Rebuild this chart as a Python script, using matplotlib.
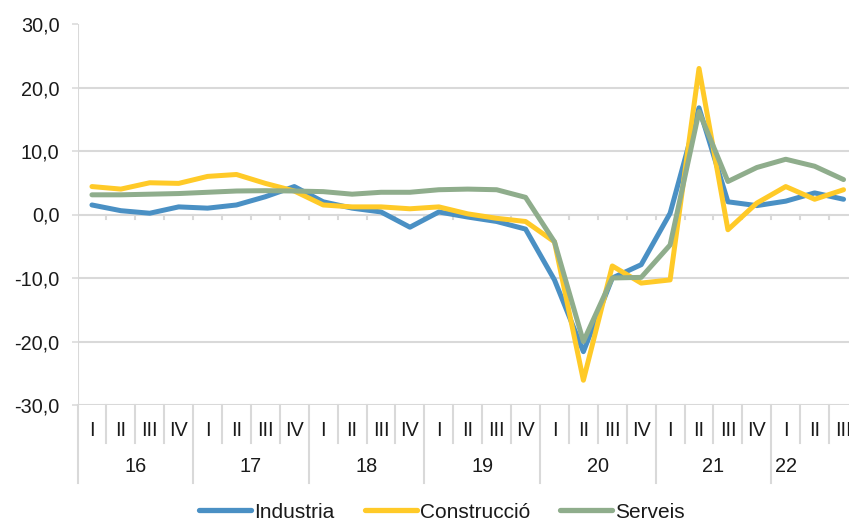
import matplotlib
matplotlib.use("Agg")
import matplotlib.pyplot as plt
import matplotlib.transforms as mtransforms
import numpy as np

plt.rcParams['font.family'] = ['Liberation Sans', 'DejaVu Sans']

years = ['16', '17', '18', '19', '20', '21', '22']
quarters = ['I', 'II', 'III', 'IV'] * 6 + ['I', 'II', 'III']
quarters_per_year = [4, 4, 4, 4, 4, 4, 3]

industria = [1.5, 0.6, 0.2, 1.2, 1.0, 1.5, 2.8, 4.4, 2.0, 1.0, 0.4, -2.0, 0.4, -0.4, -1.1, -2.3,
             -10.3, -21.6, -10.0, -7.9, 0.2, 16.8, 2.0, 1.4, 2.1, 3.4, 2.4]
construccio = [4.4, 4.0, 5.0, 4.9, 6.0, 6.3, 4.9, 3.7, 1.5, 1.2, 1.2, 0.9, 1.2, 0.1, -0.6, -1.1,
               -4.3, -26.1, -8.1, -10.8, -10.3, 23.0, -2.4, 1.8, 4.4, 2.4, 3.9]
serveis = [3.1, 3.1, 3.2, 3.3, 3.5, 3.7, 3.75, 3.7, 3.6, 3.2, 3.5, 3.5, 3.9, 4.0, 3.9, 2.7,
           -4.3, -20.0, -10.0, -9.9, -4.8, 16.2, 5.2, 7.4, 8.7, 7.6, 5.5]

series = [('Industria', industria, '#4a90c4'),
          ('Construcció', construccio, '#ffca28'),
          ('Serveis', serveis, '#8fad8c')]

W, H = 849, 523
fig = plt.figure(figsize=(W / 100, H / 100), dpi=100)
left_px, right_px, top_px, bot_px = 77.5, 858, 24, 405
ax = fig.add_axes([left_px / W, 1 - bot_px / H, (right_px - left_px) / W, (bot_px - top_px) / H])

n = len(quarters)
x = np.arange(n) + 0.5
grid_c = '#d9d9d9'
text_c = '#1a1a1a'
fs = 14.3

for name, vals, col in series:
    ax.plot(x, vals, color=col, lw=3.6, label=name, solid_joinstyle='round',
            solid_capstyle='round', clip_on=False, zorder=3)

ax.set_xlim(0, n)
ax.set_ylim(-30, 30)
yt = np.arange(-30, 31, 10)
ax.set_yticks(yt)
ax.set_yticklabels([f"{v:.1f}".replace('.', ',') for v in yt], fontsize=fs, color=text_c)
ax.tick_params(axis='y', length=4.5, width=1.1, color=grid_c, pad=8.5)
ax.set_xticks([])
for s in ax.spines.values():
    s.set_visible(False)
ax.axvline(0, color=grid_c, lw=1.5, zorder=1)
for v in yt[:-1]:
    ax.axhline(v, color=grid_c, lw=1.5, zorder=1)

# small tick marks on the zero axis
for b in range(1, n + 1):
    ax.plot([b, b], [0, -0.65], color=grid_c, lw=1.5, zorder=1, clip_on=False)

# category label area
trans = mtransforms.blended_transform_factory(ax.transData, ax.transAxes)
h_ax = bot_px - top_px
short = -(443 - bot_px) / h_ax
long_ = -(483 - bot_px) / h_ax
q_y = -(430.5 - bot_px) / h_ax
y_y = -(467 - bot_px) / h_ax

year_bounds = np.cumsum([0] + quarters_per_year)
for b in range(0, n + 1):
    ylow = long_ if b in year_bounds else short
    ax.plot([b, b], [0, ylow], color=grid_c, lw=1.5, transform=trans, clip_on=False)
for i, q in enumerate(quarters):
    ax.text(i + 0.5, q_y, q, transform=trans, ha='center', va='center', fontsize=fs, color=text_c)
for k, yr in enumerate(years):
    if k < len(years) - 1:
        cx = (year_bounds[k] + year_bounds[k + 1]) / 2
    else:
        cx = year_bounds[k] + 0.5
    ax.text(cx, y_y, yr, transform=trans, ha='center', va='center', fontsize=fs, color=text_c)

leg = fig.legend(loc='center', bbox_to_anchor=(442 / W, 1 - 512 / H), ncol=3, frameon=False,
                 fontsize=15, handlelength=2.5, handletextpad=0.15, columnspacing=1.45,
                 borderaxespad=0, borderpad=0)
for t in leg.get_texts():
    t.set_color(text_c)
for h in leg.legend_handles:
    h.set_linewidth(3.8)

fig.savefig('out.png', dpi=100)
